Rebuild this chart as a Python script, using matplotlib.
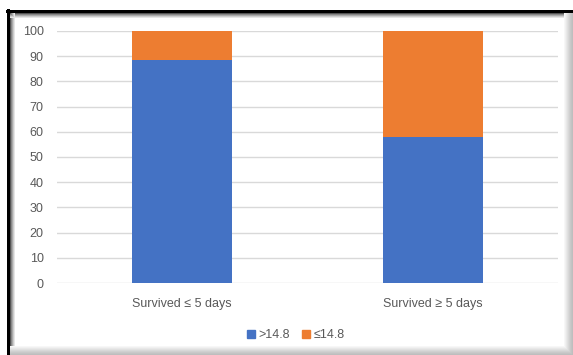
import matplotlib
matplotlib.use("Agg")
import matplotlib.pyplot as plt
from matplotlib.lines import Line2D
from matplotlib.patches import Patch

plt.rcParams["font.family"] = ["Liberation Sans", "DejaVu Sans"]

categories = ["Survived \u2264 5 days", "Survived \u2265 5 days"]
above = [88.3, 58.1]            # >14.8
below = [100 - v for v in above]  # ≤14.8
series_labels = [">14.8", "\u226414.8"]

BLUE = "#4472C4"
ORANGE = "#ED7D31"
GRID = "#D9D9D9"
TEXT = "#595959"

W, H = 573, 355
fig = plt.figure(figsize=(W / 100, H / 100), dpi=100)
fig.patch.set_facecolor("white")

ax = fig.add_axes([57 / W, (H - 283) / H, (558 - 57) / W, (283 - 31) / H])
x = range(len(categories))
ax.bar(x, above, width=0.4, color=BLUE, zorder=3)
ax.bar(x, below, width=0.4, bottom=above, color=ORANGE, zorder=3)

ax.set_xlim(-0.5, 1.5)
ax.set_ylim(0, 100)
ax.set_yticks(range(0, 101, 10))
ax.set_xticks(list(x))
ax.set_xticklabels(categories)
ax.yaxis.grid(True, color=GRID, linewidth=1)
ax.set_axisbelow(True)
for s in ax.spines.values():
    s.set_visible(False)
ax.tick_params(axis="both", length=0, colors=TEXT, labelsize=9)
ax.tick_params(axis="y", pad=9.5)
ax.tick_params(axis="x", pad=10.5)

handles = [Patch(color=BLUE), Patch(color=ORANGE)]
fig.legend(handles, series_labels, loc="center", bbox_to_anchor=(296 / W, (H - 335) / H),
           ncol=2, frameon=False, fontsize=9, labelcolor=TEXT,
           handlelength=0.6, handleheight=0.6, handletextpad=0.3, columnspacing=1.0)

# frame with inner shadow
def hline(y, x0, x1, color, lw=1):
    fig.add_artist(Line2D([x0 / W, x1 / W], [1 - y / H, 1 - y / H], color=color, lw=lw * 0.72,
                          transform=fig.transFigure))

def vline(xp, y0, y1, color, lw=1):
    fig.add_artist(Line2D([xp / W, xp / W], [1 - y0 / H, 1 - y1 / H], color=color, lw=lw * 0.72,
                          transform=fig.transFigure))

hline(11, 7, 573, "black", 3)
vline(8, 10, 355, "black", 3)
for i, c in enumerate(["#555555", "#888888", "#aaaaaa", "#cccccc", "#e6e6e6"]):
    hline(13 + i, 10, 565, c)
    vline(10 + i, 13, 355, c)
shade = ["#f7f7f7", "#f0f0f0", "#e8e8e8", "#e0e0e0", "#d8d8d8", "#d0d0d0", "#c9c9c9", "#c3c3c3",
         "#bebebe", "#bababa"]
for i, c in enumerate(shade):
    vline(564 + i, 13, 355, c)
    hline(345.5 + i, 10, 564 + i, c)

fig.savefig("out.png", dpi=100)
